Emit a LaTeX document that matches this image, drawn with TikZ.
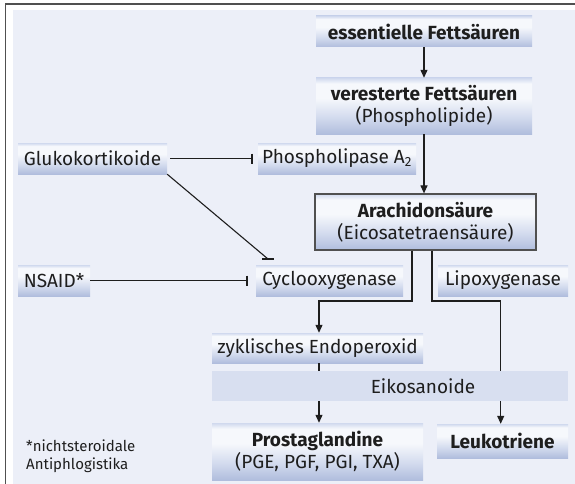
\documentclass[tikz,border=0pt]{standalone}
\usepackage{fontspec}
\setmainfont{Fira Sans}
\usetikzlibrary{arrows.meta,calc}
\definecolor{bg}{HTML}{ECEFF8}
\definecolor{shtop}{HTML}{D0D9EE}
\definecolor{shmid}{HTML}{F6F8FC}
\definecolor{shlow}{HTML}{D3DBEE}
\definecolor{shbot}{HTML}{B0BDDD}
\definecolor{bandc}{HTML}{D8DFF0}
\definecolor{framec}{HTML}{505050}
\definecolor{ink}{HTML}{1E1E1E}
\pgfdeclareverticalshading{boxshade}{100bp}{color(0bp)=(shbot); color(25bp)=(shbot); color(40bp)=(shlow); color(57bp)=(shmid); color(70bp)=(shmid); color(75bp)=(shtop); color(100bp)=(shtop)}
\begin{document}
\begin{tikzpicture}[x=1pt,y=-1pt,
  font=\fontsize{19}{22.5}\selectfont,
  box/.style={shading=boxshade, minimum height=31pt, inner sep=0pt, align=center, text=ink},
  conn/.style={draw=ink, line width=1.1pt},
  arr/.style={conn, -{Triangle[width=7pt,length=8pt]}},
  inh/.style={conn, -{Bar[width=10pt,line width=1.8pt]}}]
\useasboundingbox (0,0) rectangle (575,484);
\fill[white] (0,0) rectangle (575,484);
\fill[bg] (13,10) rectangle (575,484);
\draw[framec, line width=1.5pt] (5.5,484) -- (5.5,4) -- (575,4);

\node[box, minimum width=216pt] (ess) at (424,31.5) {\bfseries essentielle Fettsäuren};
\node[box, minimum width=216pt, minimum height=56pt] (ver) at (424,106) {\textbf{veresterte Fettsäuren}\\(Phospholipide)};
\node[box, minimum width=149pt] (gluko) at (92.5,158.5) {Glukokortikoide};
\node[box, minimum width=158pt] (phos) at (337,158.5) {Phospholipase A\textsubscript{2}};
\node[box, draw=framec, line width=1.2pt, minimum width=221pt, minimum height=56pt] (arach) at (425.5,222) {\textbf{Arachidonsäure}\\(Eicosatetraensäure)};
\node[box, minimum width=72pt] (nsaid) at (54,280.5) {NSAID*};
\node[box, minimum width=147pt] (cox) at (329.5,280.5) {Cyclooxygenase};
\node[box, minimum width=130pt] (lox) at (503,280.5) {Lipoxygenase};
\node[box, minimum width=211pt, minimum height=30pt] (zyk) at (317.5,348) {zyklisches Endoperoxid};
\node[box, minimum width=211pt, minimum height=57pt] (prost) at (317.5,451.5) {\textbf{Prostaglandine}\\(PGE, PGF, PGI, TXA)};
\node[box, minimum width=131pt, minimum height=34pt] (leuk) at (502.5,441) {\bfseries Leukotriene};
\node[anchor=north west, align=left, inner sep=0pt, text=ink, font=\fontsize{15}{18.5}\selectfont] (fn) at (26,439.5) {*nichtsteroidale\\Antiphlogistika};

\coordinate (ax) at (319,0);
\coordinate (rx) at (500.7,0);
\coordinate (bl) at (412,301);
\coordinate (br) at (432,301);
\coordinate (gkend) at (268,259);

\draw[arr] (ess) -- (ver);
\draw[arr] (ver.south) -- (ver.south |- arach.north);
\draw[inh, shorten <=3pt, shorten >=5pt] (gluko) -- (phos);
\draw[inh, shorten >=8pt] (nsaid) -- (cox);
\draw[conn] (gluko.south east) -- (gkend);
\draw[conn, line width=1.8pt] ($(gkend)+(-6,0)$) -- ($(gkend)+(6,0)$);
\draw[arr] (arach.south -| bl) -- (bl) -| (zyk.north -| ax);
\draw[arr] (arach.south -| br) -- (br) -| (leuk.north -| rx);
\draw[arr] (zyk.south -| ax) -- (prost.north -| ax);

\node[fill=bandc, minimum width=356pt, minimum height=30pt, inner sep=0pt] (eiko) at (390,386) {};
\node[text=ink, inner sep=0pt] (eikot) at (423,386) {Eikosanoide};
\end{tikzpicture}
\end{document}
